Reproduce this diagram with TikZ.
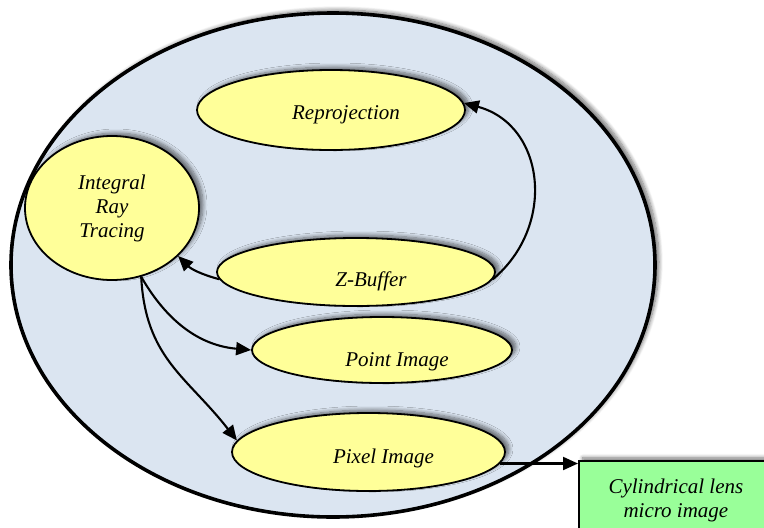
\documentclass[tikz,border=0pt]{standalone}
\usepackage{fontspec}
\setmainfont{Liberation Serif}
\usetikzlibrary{arrows.meta,shapes.geometric,shadows.blur}

\definecolor{scenefill}{RGB}{219,229,241}
\definecolor{stagefill}{RGB}{255,255,153}
\definecolor{lensfill}{RGB}{153,255,153}
\newcommand{\stagefont}{\fontsize{21}{24}\selectfont\itshape}

\begin{document}
\begin{tikzpicture}[x=1pt,y=1pt,
  softshadow/.style={blur shadow={shadow xshift=4pt,shadow yshift=3pt,shadow blur radius=4pt,shadow blur steps=8,shadow opacity=55}},
  stage/.style={ellipse,draw,line width=1.8pt,fill=stagefill,inner sep=0pt,softshadow},
  stagetext/.style={font=\stagefont,text height=14pt,text depth=4pt,xshift=15pt},
  flow/.style={line width=2.1pt,-{Triangle[length=15pt,width=13pt]}}]
  \useasboundingbox (0,0) rectangle (764,-528);
  \clip (0,0) rectangle (764,-528);
  % enclosing region
  \node[ellipse,draw,line width=3.6pt,fill=scenefill,minimum width=644pt,minimum height=504pt,softshadow] (scene) at (333,-265) {};
  % stages
  \node[stage,minimum width=268pt,minimum height=80pt,label={[stagetext,yshift=-4pt]center:Reprojection}] (repro) at (331,-110) {};
  \node[stage,minimum width=174pt,minimum height=144pt,font=\stagefont,align=center] (irt) at (112,-208) {Integral\\Ray\\Tracing};
  \node[stage,minimum width=278pt,minimum height=68pt,label={[stagetext,yshift=-9pt]center:Z-Buffer}] (zbuf) at (356,-272) {};
  \node[stage,minimum width=260pt,minimum height=66pt,label={[stagetext,yshift=-11pt]center:Point Image}] (point) at (382,-350) {};
  \node[stage,minimum width=273pt,minimum height=78pt,label={[stagetext,yshift=-6pt]center:Pixel Image}] (pixel) at (368.5,-452) {};
  \node[draw,line width=1.8pt,fill=lensfill,font=\stagefont,align=center,anchor=north west,
    minimum width=194pt,inner ysep=18.5pt,softshadow] (lens) at (578,-460) {Cylindrical lens\\micro image};
  % connectors
  \draw[flow] (zbuf.-3) to[out=40,in=-15,looseness=1.2] (repro.3);
  \draw[flow] (zbuf.183) to[out=165,in=-45] (irt.-36);
  \draw[flow] (irt.-67) to[out=-60,in=175] (point.180);
  \draw[flow] (irt.-67) to[out=-87,in=128,looseness=1.1] (pixel.175);
  \draw[flow] (pixel.-5) -- (pixel.-5 -| lens.west);
\end{tikzpicture}
\end{document}
